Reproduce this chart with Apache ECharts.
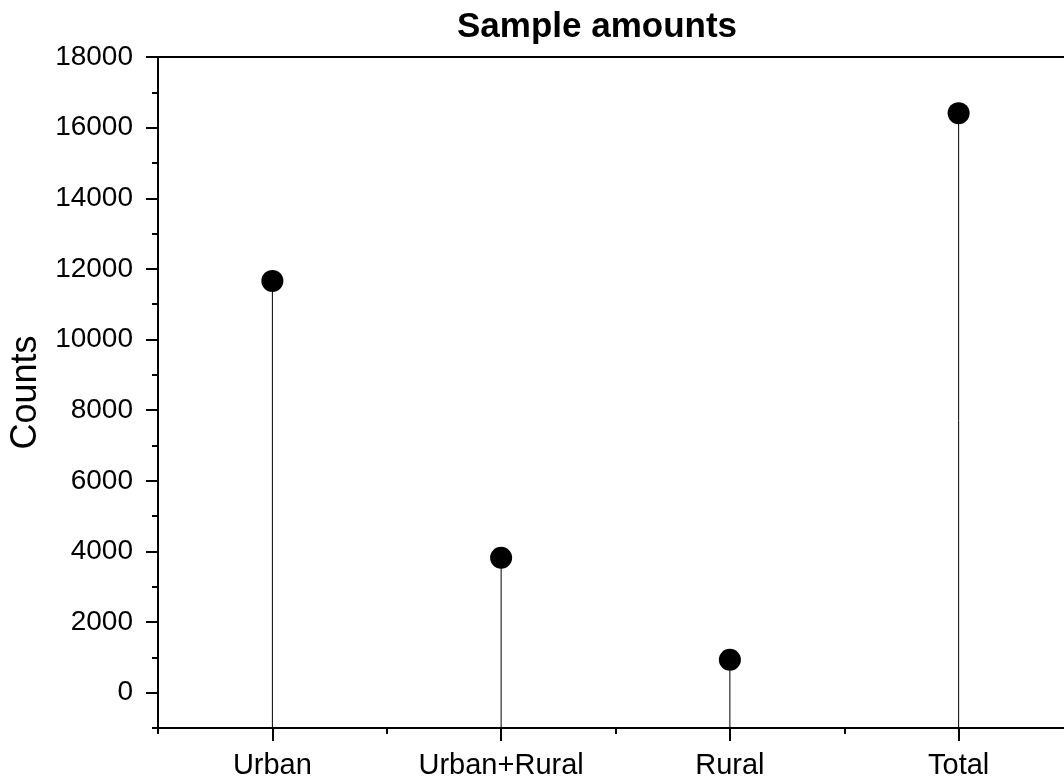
<!DOCTYPE html>
<html>
<head>
<meta charset="utf-8">
<script src="https://cdn.jsdelivr.net/npm/echarts@6/dist/echarts.min.js"></script>
<style>
html,body{margin:0;padding:0;background:#fff;}
#chart{width:1064px;height:782px;}
</style>
</head>
<body>
<div id="chart"></div>
<script>
const categories = ['Urban', 'Urban+Rural', 'Rural', 'Total'];
const counts = [11660, 3820, 930, 16410];
const yMajorTicks = [0, 2000, 4000, 6000, 8000, 10000, 12000, 14000, 16000, 18000];
const yMin = -1000;
const yMax = 18000;

const FONT = "'Liberation Sans', Arial, sans-serif";
const chart = echarts.init(document.getElementById('chart'), null, {renderer: 'canvas'});

const lineStyle = {color: '#000', width: 2};

chart.setOption({
  animation: false,
  backgroundColor: '#fff',
  title: {
    text: 'Sample amounts',
    left: 592,
    top: 5,
    textAlign: 'center',
    textStyle: {fontFamily: FONT, fontSize: 35, fontWeight: 'bold', color: '#000'}
  },
  grid: {left: 158, top: 57, width: 915, bottom: 54, containLabel: false, outerBoundsMode: 'none'},
  xAxis: [
    {
      type: 'category', data: categories, position: 'bottom', boundaryGap: true,
      axisLine: {show: true, onZero: false, lineStyle: lineStyle},
      axisTick: {show: true, alignWithLabel: true, length: 13, lineStyle: {color: '#000', width: 2}},
      axisLabel: {fontFamily: FONT, fontSize: 29, color: '#000', margin: 23},
      splitLine: {show: false}
    },
    {
      type: 'category', data: categories, position: 'bottom', boundaryGap: true,
      axisLine: {show: false, onZero: false},
      axisTick: {show: true, length: 6, lineStyle: {color: '#000', width: 2}},
      axisLabel: {show: false},
      splitLine: {show: false}
    },
    {
      type: 'category', data: categories, position: 'top', boundaryGap: true,
      axisLine: {show: true, onZero: false, lineStyle: lineStyle},
      axisTick: {show: false},
      axisLabel: {show: false},
      splitLine: {show: false}
    }
  ],
  yAxis: [
    {
      type: 'value', min: yMin, max: yMax, interval: 1000, position: 'left',
      name: 'Counts', nameLocation: 'middle', nameGap: 101,
      nameTextStyle: {fontFamily: FONT, fontSize: 36, color: '#000'},
      axisLine: {show: true, onZero: false, lineStyle: lineStyle},
      axisTick: {show: true, length: 6, lineStyle: {color: '#000', width: 2}},
      axisLabel: {
        fontFamily: FONT, fontSize: 28, color: '#000', margin: 25,
        customValues: yMajorTicks,
        formatter: function (v) { return String(v); }
      },
      splitLine: {show: false}
    },
    {
      type: 'value', min: yMin, max: yMax, interval: 1000, position: 'left',
      axisLine: {show: false, onZero: false},
      axisTick: {show: true, length: 12, customValues: yMajorTicks, lineStyle: {color: '#000', width: 2}},
      axisLabel: {show: false},
      splitLine: {show: false}
    }
  ],
  series: [
    {
      type: 'custom',
      xAxisIndex: 0, yAxisIndex: 0,
      data: counts.map((v, i) => [i, v]),
      renderItem: function (params, api) {
        const top = api.coord([api.value(0), api.value(1)]);
        const base = api.coord([api.value(0), yMin]);
        return {
          type: 'line',
          shape: {x1: top[0], y1: top[1], x2: base[0], y2: base[1]},
          style: {stroke: '#000', lineWidth: 1}
        };
      },
      z: 1
    },
    {
      type: 'scatter',
      xAxisIndex: 0, yAxisIndex: 0,
      data: counts.map((v, i) => [i, v]),
      symbol: 'circle', symbolSize: 22,
      itemStyle: {color: '#000', opacity: 1},
      z: 3
    }
  ]
});
</script>
</body>
</html>
